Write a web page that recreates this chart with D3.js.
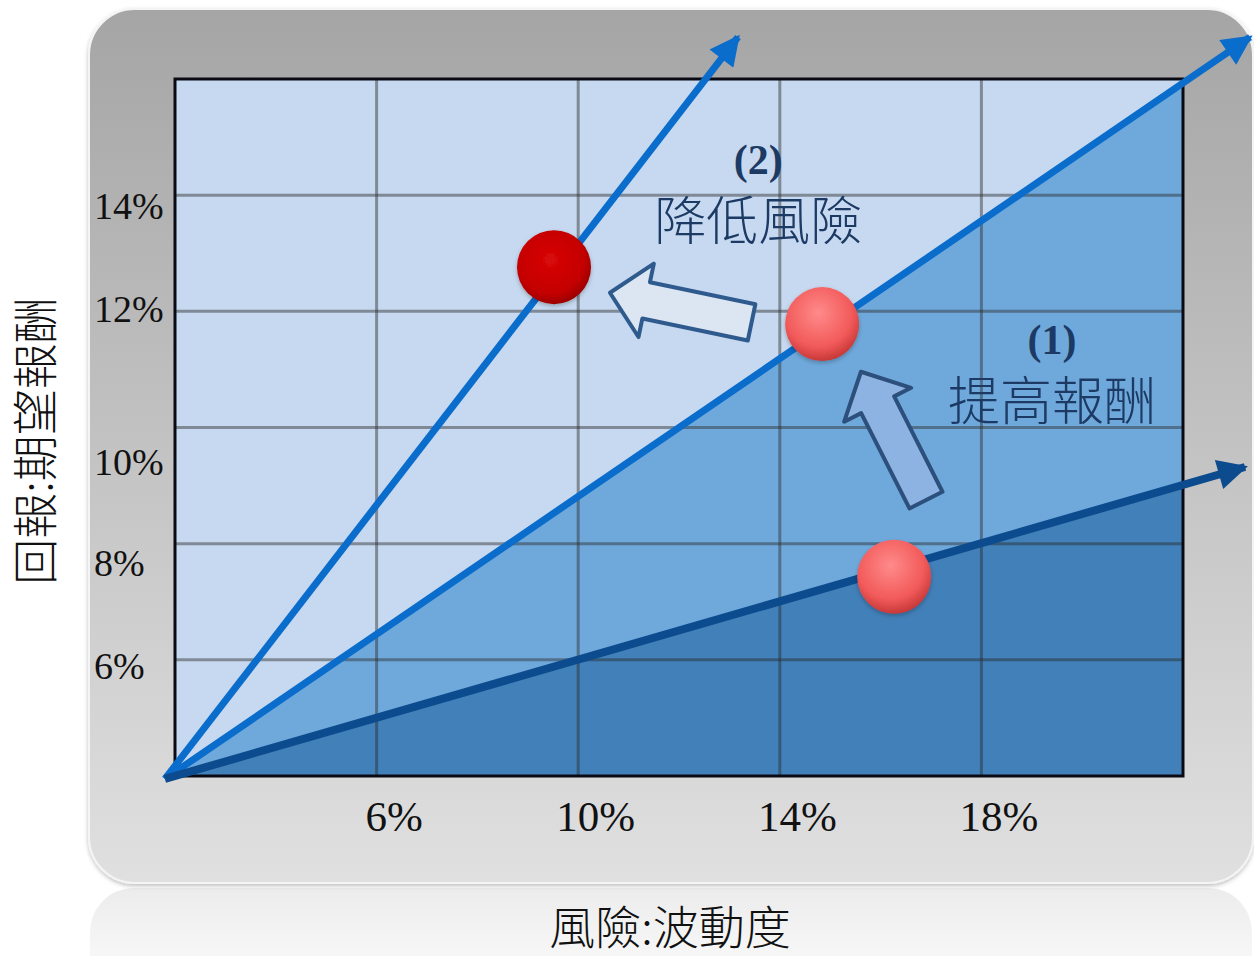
<!DOCTYPE html>
<html>
<head>
<meta charset="utf-8">
<script src="https://cdn.jsdelivr.net/npm/d3@7"></script>
<style>
  body { margin: 0; background: #fff; }
  svg { display: block; }
</style>
</head>
<body>
<div id="chart"></div>
<script>
// values (risk % on x, expected return % on y)
var xTicks = [6, 10, 14, 18];
var yTicks = [6, 8, 10, 12, 14];
var origin = [1.8, 3.95];
var lineNames = ["steep", "middle", "flat"];
var lineEnds = [[13.17, 16.72], [23.33, 16.72], [23.23, 9.32]];
var pointNames = ["lowRisk", "start", "lowReturn"];
var pointX = [9.52, 14.84, 16.27];
var pointY = [12.76, 11.78, 7.43];
var arrowTails = [[13.44, 11.81], [16.9, 8.75]];
var arrowTips = [[10.63, 12.32], [15.61, 10.96]];
var noteNums = ["(2)", "(1)"];
var noteTexts = ["降低風險", "提高報酬"];
var noteAt = [[13.57, 13.23], [19.4, 10.13]];

var W = 1254, H = 956;
var margin = {top: 79, right: 71, bottom: 180, left: 175},
    width = W - margin.left - margin.right,
    height = H - margin.top - margin.bottom;

var x = d3.scaleLinear().domain([2, 22]).range([margin.left, margin.left + width]);
var y = d3.scaleLinear().domain([4, 16]).range([margin.top + height, margin.top]);

var svg = d3.select("#chart").append("svg")
    .attr("width", W)
    .attr("height", H);

var defs = svg.append("defs");

var panelGrad = defs.append("linearGradient").attr("id", "panelGrad")
    .attr("x1", 0).attr("y1", 0).attr("x2", 0).attr("y2", 1);
panelGrad.append("stop").attr("offset", "0%").attr("stop-color", "#a5a5a5");
panelGrad.append("stop").attr("offset", "100%").attr("stop-color", "#e0e0e0");

var reflGrad = defs.append("linearGradient").attr("id", "reflGrad")
    .attr("x1", 0).attr("y1", 0).attr("x2", 0).attr("y2", 1);
reflGrad.append("stop").attr("offset", "0%").attr("stop-color", "#ececec");
reflGrad.append("stop").attr("offset", "100%").attr("stop-color", "#ffffff");

var shadow = defs.append("filter").attr("id", "shadow")
    .attr("x", "-10%").attr("y", "-10%").attr("width", "120%").attr("height", "120%");
shadow.append("feDropShadow").attr("dx", 0).attr("dy", 2).attr("stdDeviation", 2)
    .attr("flood-color", "#000").attr("flood-opacity", 0.25);

var redGrad = defs.append("radialGradient").attr("id", "redBall")
    .attr("cx", "45%").attr("cy", "40%").attr("r", "65%");
redGrad.append("stop").attr("offset", "0%").attr("stop-color", "#d80808");
redGrad.append("stop").attr("offset", "70%").attr("stop-color", "#c40000");
redGrad.append("stop").attr("offset", "100%").attr("stop-color", "#8e0000");

var pinkGrad = defs.append("radialGradient").attr("id", "pinkBall")
    .attr("cx", "45%").attr("cy", "35%").attr("r", "65%");
pinkGrad.append("stop").attr("offset", "0%").attr("stop-color", "#ff8a8a");
pinkGrad.append("stop").attr("offset", "70%").attr("stop-color", "#f25a5a");
pinkGrad.append("stop").attr("offset", "100%").attr("stop-color", "#c83838");

defs.append("clipPath").attr("id", "plotClip")
    .append("rect")
    .attr("x", margin.left).attr("y", margin.top)
    .attr("width", width).attr("height", height);

var lineColors = ["#0a6ccb", "#0a6ccb", "#0c4b8e"];
var lineWidths = [7, 7, 8];
lineColors.forEach(function(c, i) {
    defs.append("marker")
        .attr("id", "head" + i)
        .attr("markerUnits", "userSpaceOnUse")
        .attr("viewBox", "0 -10 20 20")
        .attr("refX", 18).attr("refY", 0)
        .attr("markerWidth", 32).attr("markerHeight", 30)
        .attr("orient", "auto")
        .append("path")
        .attr("d", "M0,-10L20,0L0,10Z")
        .attr("fill", c);
});

// background panel + reflection
svg.append("rect")
    .attr("x", 90).attr("y", 888).attr("width", 1162).attr("height", 120)
    .attr("rx", 44)
    .attr("fill", "url(#reflGrad)");

svg.append("rect")
    .attr("x", 89).attr("y", 9).attr("width", 1164).attr("height", 874)
    .attr("rx", 46)
    .attr("fill", "url(#panelGrad)")
    .attr("stroke", "#f4f4f4").attr("stroke-width", 2)
    .attr("filter", "url(#shadow)");

// plot area
svg.append("rect")
    .attr("x", margin.left).attr("y", margin.top)
    .attr("width", width).attr("height", height)
    .attr("fill", "#c6d9f0");

var fills = svg.append("g").attr("clip-path", "url(#plotClip)");
var area = d3.line().x(function(d) { return x(d[0]); }).y(function(d) { return y(d[1]); });
var fillColors = ["#6fa9db", "#4280b9"];
[1, 2].forEach(function(li, k) {
    var e = lineEnds[li];
    fills.append("path")
        .attr("d", area([origin, e, [e[0], origin[1]]]) + "Z")
        .attr("fill", fillColors[k]);
});

// grid
var grid = svg.append("g").attr("class", "grid")
    .attr("stroke", "#2a2a2a").attr("stroke-opacity", 0.45).attr("stroke-width", 3);
grid.selectAll(".gx").data(xTicks).enter().append("line")
    .attr("x1", function(d) { return x(d); }).attr("x2", function(d) { return x(d); })
    .attr("y1", margin.top).attr("y2", margin.top + height);
grid.selectAll(".gy").data(yTicks).enter().append("line")
    .attr("y1", function(d) { return y(d); }).attr("y2", function(d) { return y(d); })
    .attr("x1", margin.left).attr("x2", margin.left + width);

svg.append("rect")
    .attr("x", margin.left).attr("y", margin.top)
    .attr("width", width).attr("height", height)
    .attr("fill", "none").attr("stroke", "#0a0a14").attr("stroke-width", 3);

// axes (labels only)
var xAxis = d3.axisBottom(x).tickValues(xTicks).tickSize(0).tickFormat(function(d) { return d + "%"; });
var gx = svg.append("g")
    .attr("transform", "translate(0," + (margin.top + height) + ")")
    .call(xAxis);
gx.select(".domain").remove();
gx.selectAll("text")
    .attr("dx", 17).attr("dy", 0).attr("y", 55)
    .style("font", "43px 'Liberation Serif', serif").style("fill", "#111");

// y labels sit a bit off their grid lines in the original
var yNudge = [19, 32, 47, 10, 23];
var yAxis = d3.axisLeft(y).tickValues(yTicks).tickSize(0).tickFormat(function(d) { return d + "%"; });
var gy = svg.append("g")
    .attr("transform", "translate(" + margin.left + ",0)")
    .call(yAxis);
gy.select(".domain").remove();
gy.selectAll("text")
    .attr("x", 94 - margin.left)
    .attr("dy", function(d, i) { return yNudge[i]; })
    .style("text-anchor", "start")
    .style("font", "38px 'Liberation Serif', serif").style("fill", "#111");

// lines with arrow heads
svg.selectAll(".ray").data(lineNames).enter().append("line")
    .attr("class", "ray")
    .attr("x1", x(origin[0])).attr("y1", y(origin[1]))
    .attr("x2", function(d, i) { return x(lineEnds[i][0]); })
    .attr("y2", function(d, i) { return y(lineEnds[i][1]); })
    .attr("stroke", function(d, i) { return lineColors[i]; })
    .attr("stroke-width", function(d, i) { return lineWidths[i]; })
    .attr("marker-end", function(d, i) { return "url(#head" + i + ")"; });

// block arrows
function blockArrow(t, h, shaftHalf, headHalf, headLen) {
    var dx = h[0] - t[0], dy = h[1] - t[1];
    var len = Math.sqrt(dx * dx + dy * dy);
    var ux = dx / len, uy = dy / len, px = -uy, py = ux;
    var bx = h[0] - ux * headLen, by = h[1] - uy * headLen;
    var pts = [
        [t[0] + px * shaftHalf, t[1] + py * shaftHalf],
        [bx + px * shaftHalf, by + py * shaftHalf],
        [bx + px * headHalf, by + py * headHalf],
        h,
        [bx - px * headHalf, by - py * headHalf],
        [bx - px * shaftHalf, by - py * shaftHalf],
        [t[0] - px * shaftHalf, t[1] - py * shaftHalf]
    ];
    return "M" + pts.map(function(p) { return p[0] + "," + p[1]; }).join("L") + "Z";
}
var arrowFill = ["#dce6f2", "#8db3e2"];
var arrowStroke = ["#2f5a8e", "#2c4f7c"];
svg.selectAll(".blk").data(arrowTails).enter().append("path")
    .attr("class", "blk")
    .attr("d", function(d, i) {
        return blockArrow([x(d[0]), y(d[1])], [x(arrowTips[i][0]), y(arrowTips[i][1])], 18.5, 37.5, 37);
    })
    .attr("fill", function(d, i) { return arrowFill[i]; })
    .attr("stroke", function(d, i) { return arrowStroke[i]; })
    .attr("stroke-width", 4)
    .attr("stroke-linejoin", "round");

// balls
svg.selectAll(".ball").data(pointNames).enter().append("circle")
    .attr("class", "ball")
    .attr("cx", function(d, i) { return x(pointX[i]); })
    .attr("cy", function(d, i) { return y(pointY[i]); })
    .attr("r", 37)
    .attr("fill", function(d, i) { return i == 0 ? "url(#redBall)" : "url(#pinkBall)"; })
    .attr("filter", "url(#shadow)");

// notes
var notes = svg.selectAll(".note").data(noteTexts).enter().append("g")
    .attr("class", "note")
    .attr("transform", function(d, i) { return "translate(" + x(noteAt[i][0]) + "," + y(noteAt[i][1]) + ")"; });
notes.append("text")
    .attr("y", -66)
    .style("text-anchor", "middle")
    .style("font", "bold 42px 'Liberation Serif', serif")
    .style("fill", "#1c3a64")
    .text(function(d, i) { return noteNums[i]; });
notes.append("text")
    .attr("y", 0)
    .style("text-anchor", "middle")
    .style("font", "300 52px 'Noto Sans CJK TC', sans-serif")
    .style("fill", "#1c3a64")
    .text(function(d) { return d; });

// axis titles
svg.append("text")
    .attr("transform", "translate(52,441) rotate(-90)")
    .style("text-anchor", "middle")
    .style("font", "300 46px 'Noto Sans CJK TC', sans-serif")
    .style("fill", "#111")
    .text("回報:期望報酬");

svg.append("text")
    .attr("x", 670).attr("y", 944)
    .style("text-anchor", "middle")
    .style("font", "300 46px 'Noto Sans CJK TC', sans-serif")
    .style("fill", "#111")
    .text("風險:波動度");
</script>
</body>
</html>
